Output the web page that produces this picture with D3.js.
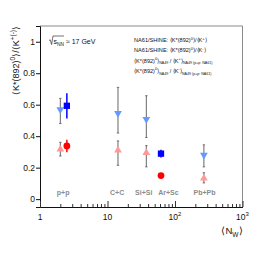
<!DOCTYPE html>
<html>
<head>
<meta charset="utf-8">
<script src="https://cdn.jsdelivr.net/npm/d3@7"></script>
<style>
  body { margin: 0; background: #fff; }
  svg { font-family: "Liberation Sans", Arial, sans-serif; }
</style>
</head>
<body>
<svg id="chart" width="270" height="259"></svg>
<script>
// NA61/SHINE points: N_W, ratio, error down, error up
var na61KpN = [2.5, 62];
var na61KpVal = [0.338, 0.150];
var na61KpErr = [0.04, 0.012];

var na61KmN = [2.5, 62];
var na61KmVal = [0.593, 0.289];
var na61KmErr = [0.08, 0.025];

// NA49 points (p+p from NA61)
var na49N = [2.0, 14.3, 37.6, 268];
var na49KpVal = [0.317, 0.310, 0.295, 0.133];
var na49KpLo = [0.043, 0.095, 0.090, 0.030];
var na49KpHi = [0.044, 0.060, 0.045, 0.035];

var na49KmVal = [0.570, 0.545, 0.507, 0.280];
var na49KmLo = [0.090, 0.125, 0.115, 0.075];
var na49KmHi = [0.070, 0.165, 0.150, 0.065];

var systems = ["p+p", "C+C", "Si+Si", "Ar+Sc", "Pb+Pb"];
var systemN = [2.2, 13.9, 34.4, 80, 274];

var yTicks = [0, 0.2, 0.4, 0.6, 0.8, 1];
var xMajor = [1, 10, 100, 1000];
var xTickLabels = [["1", ""], ["10", ""], ["10", "2"], ["10", "3"]];

var margin = {top: 26, bottom: 52, left: 40, right: 27.5};
var w = 270 - margin.left - margin.right;
var h = 259 - margin.top - margin.bottom;

var svg = d3.select("#chart");
var g = svg.append("g").attr("transform", `translate(${margin.left},${margin.top})`);

var x = d3.scaleLog().domain([1, 1000]).range([0, w]);
var y = d3.scaleLinear().domain([-0.05, 1.1]).range([h, 0]);

// frame top/right
g.append("path")
  .attr("d", `M0,0H${w}V${h}`)
  .attr("fill", "none").attr("stroke", "#8a8a8a").attr("stroke-width", 1);

// y axis
var yAxis = g.append("g")
  .call(d3.axisLeft(y).tickValues(yTicks).tickSize(4).tickPadding(1).tickFormat(d => String(d)));
yAxis.select(".domain").attr("stroke", "#111");
yAxis.selectAll("line").attr("stroke", "#111");
yAxis.selectAll("text").attr("font-size", 8.5).attr("fill", "#111");

// x axis, ticks pointing inwards
var minor = x.ticks().filter(d => xMajor.indexOf(d) < 0);
var xMinorAxis = g.append("g").attr("transform", `translate(0,${h})`)
  .call(d3.axisBottom(x).tickValues(minor).tickSize(-3).tickFormat(""));
xMinorAxis.select(".domain").remove();
xMinorAxis.selectAll("line").attr("stroke", "#333");
var xAxis = g.append("g").attr("transform", `translate(0,${h})`)
  .call(d3.axisBottom(x).tickValues(xMajor).tickSize(-6).tickSizeOuter(0).tickFormat(""));
xAxis.select(".domain").attr("stroke", "#111");
xAxis.selectAll("line").attr("stroke", "#333");

var xl = g.append("g").selectAll("text").data(xMajor).join("text")
  .attr("x", d => x(d)).attr("y", h + 13)
  .attr("text-anchor", "middle").attr("font-size", 8.5).attr("fill", "#111");
xl.append("tspan").text((d, i) => xTickLabels[i][0]);
xl.append("tspan").attr("font-size", 6).attr("dy", -4).text((d, i) => xTickLabels[i][1]);

// axis titles
var xt = g.append("text").attr("x", w).attr("y", h + 27)
  .attr("text-anchor", "end").attr("font-size", 9.5).attr("fill", "#111");
xt.append("tspan").text("\u27E8N");
xt.append("tspan").attr("font-size", 6.5).attr("dy", 3).text("W");
xt.append("tspan").attr("dy", -3).text("\u27E9");

var yt = svg.append("text")
  .attr("transform", "translate(19,26) rotate(-90)")
  .attr("text-anchor", "end").attr("font-size", 9).attr("fill", "#111");
yt.append("tspan").text("\u27E8K*(892)");
yt.append("tspan").attr("font-size", 6.5).attr("dy", -4).text("0");
yt.append("tspan").attr("dy", 4).text("\u27E9/\u27E8K");
yt.append("tspan").attr("font-size", 6.5).attr("dy", -4).text("+(-)");
yt.append("tspan").attr("dy", 4).text("\u27E9");

// sqrt(s_NN) label
var sq = g.append("g").attr("transform", "translate(9,18)");
sq.append("path").attr("d", "M0,-3.5 L1.2,-4.2 L2.6,0.5 L4,-8 H15")
  .attr("fill", "none").attr("stroke", "#111").attr("stroke-width", 0.6);
var sqt = sq.append("text").attr("x", 4.5).attr("font-size", 7).attr("fill", "#111");
sqt.append("tspan").text("s");
sqt.append("tspan").attr("font-size", 4.8).attr("dy", 1.5).text("NN");
sqt.append("tspan").attr("dy", -1.5).text(" \u2248 17 GeV");

// system labels
g.append("g").selectAll("text").data(systems).join("text")
  .attr("x", (d, i) => x(systemN[i])).attr("y", y(0.025))
  .attr("text-anchor", "middle").attr("font-size", 7).attr("font-weight", "bold")
  .attr("fill", "#8c8c8c").text(d => d);

// error bars
function bars(xs, vals, lo, hi, color, caps, width) {
  var eb = g.append("g");
  eb.selectAll("line").data(vals).join("line")
    .attr("x1", (d, i) => x(xs[i])).attr("x2", (d, i) => x(xs[i]))
    .attr("y1", (d, i) => y(d - lo[i])).attr("y2", (d, i) => y(d + hi[i]))
    .attr("stroke", color).attr("stroke-width", width);
  if (caps) {
    eb.selectAll(".cap").data(vals.flatMap((d, i) => [[i, d - lo[i]], [i, d + hi[i]]]))
      .join("line").attr("class", "cap")
      .attr("x1", d => x(xs[d[0]]) - 1.2).attr("x2", d => x(xs[d[0]]) + 1.2)
      .attr("y1", d => y(d[1])).attr("y2", d => y(d[1]))
      .attr("stroke", color).attr("stroke-width", 0.8);
  }
}
bars(na49N, na49KmVal, na49KmLo, na49KmHi, "#555", true, 0.9);
bars(na49N, na49KpVal, na49KpLo, na49KpHi, "#555", true, 0.9);
bars(na61KmN, na61KmVal, na61KmErr, na61KmErr, "#0000ff", false, 1.5);
bars(na61KpN, na61KpVal, na61KpErr, na61KpErr, "#ff0000", false, 1.5);

var triUp = d3.symbol().type(d3.symbolTriangle).size(26);
var triDown = d3.symbol().type(d3.symbolTriangle).size(26);
var sq6 = d3.symbol().type(d3.symbolSquare).size(40);
var circ = d3.symbol().type(d3.symbolCircle).size(36);

g.append("g").selectAll("path").data(na49KmVal).join("path")
  .attr("d", triDown).attr("fill", "#6699ff")
  .attr("transform", (d, i) => `translate(${x(na49N[i])},${y(d)}) rotate(180)`);
g.append("g").selectAll("path").data(na49KpVal).join("path")
  .attr("d", triUp).attr("fill", "#ff9999")
  .attr("transform", (d, i) => `translate(${x(na49N[i])},${y(d)})`);
g.append("g").selectAll("path").data(na61KmVal).join("path")
  .attr("d", sq6).attr("fill", "#0000ff")
  .attr("transform", (d, i) => `translate(${x(na61KmN[i])},${y(d)})`);
g.append("g").selectAll("path").data(na61KpVal).join("path")
  .attr("d", circ).attr("fill", "#ff0000")
  .attr("transform", (d, i) => `translate(${x(na61KpN[i])},${y(d)})`);

// legend
var legend = [
  {sym: circ, color: "#ff0000", rot: 0, kind: "na61", k: "+"},
  {sym: sq6, color: "#0000ff", rot: 0, kind: "na61", k: "-"},
  {sym: triUp, color: "#ff9999", rot: 0, kind: "na49", k: "+"},
  {sym: triDown, color: "#6699ff", rot: 180, kind: "na49", k: "-"}
];
var lg = g.append("g").attr("transform", "translate(84,14)");
var rows = lg.selectAll("g").data(legend).join("g")
  .attr("transform", (d, i) => `translate(0,${i * 10.2})`);
rows.append("path").attr("d", d => d.sym).attr("fill", d => d.color)
  .attr("transform", d => `rotate(${d.rot})`);
var lt = rows.append("text").attr("x", 10).attr("y", 2.2)
  .attr("font-size", 5.6).attr("fill", "#111");
lt.each(function(d) {
  var t = d3.select(this);
  if (d.kind === "na61") {
    t.append("tspan").text("NA61/SHINE: \u27E8K*(892)");
    t.append("tspan").attr("font-size", 4).attr("dy", -2.5).text("0");
    t.append("tspan").attr("dy", 2.5).text("\u27E9/\u27E8K");
    t.append("tspan").attr("font-size", 4).attr("dy", -2.5).text(d.k);
    t.append("tspan").attr("dy", 2.5).text("\u27E9");
  } else {
    t.append("tspan").text("\u27E8K*(892)");
    t.append("tspan").attr("font-size", 4).attr("dy", -2.5).text("0");
    t.append("tspan").attr("dy", 2.5).text("\u27E9");
    t.append("tspan").attr("font-size", 3.6).attr("dy", 1.8).text("NA49");
    t.append("tspan").attr("dy", -1.8).text(" / \u27E8K");
    t.append("tspan").attr("font-size", 4).attr("dy", -2.5).text(d.k);
    t.append("tspan").attr("dy", 2.5).text("\u27E9");
    t.append("tspan").attr("font-size", 3.6).attr("dy", 1.8).text("NA49 (p+p: NA61)");
  }
});
</script>
</body>
</html>
